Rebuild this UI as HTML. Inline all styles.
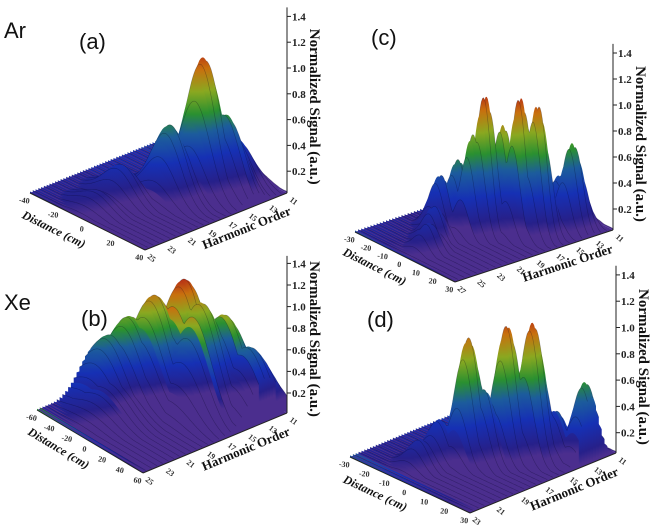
<!DOCTYPE html>
<html><head><meta charset="utf-8"><style>
html,body{margin:0;padding:0;background:#fff;}
svg{display:block;}
text{font-family:"Liberation Serif",serif;}
.big{font-family:"Liberation Sans",sans-serif;font-size:22px;fill:#111;}
</style></head><body>
<svg id="fig" width="655" height="529" viewBox="0 0 655 529" xmlns="http://www.w3.org/2000/svg">
<rect width="655" height="529" fill="#fff"/>
<defs id="defs"></defs>
<text class="big" x="4" y="38">Ar</text>
<text class="big" x="79" y="49">(a)</text>
<text class="big" x="4" y="310">Xe</text>
<text class="big" x="81" y="326">(b)</text>
<text class="big" x="371" y="45">(c)</text>
<text class="big" x="367" y="327">(d)</text>
</svg>
<script>
// ---- Panel (a): Ar ----
const aHarmTicks = [11,13,15,17,19,21,23,25];
const aDistTicks = [-40,-20,0,20,40];
const aLobeHarm = [15.1,12.7,17.7,20.5,22.9,14.2];
const aLobeDist = [11,16,6,-8,-8,20];
const aLobeZ = [1.02,0.35,0.55,0.25,0.12,0.6];
// ---- Panel (b): Xe ----
const bHarmTicks = [11,13,15,17,19,21,23,25];
const bDistTicks = [-60,-40,-20,0,20,40,60];
const bLobeHarm = [14.9,16.6,18,13.5,13.1,15.2,20.8,19.4,12.3];
const bLobeDist = [-10,-24,-36,18,42,12,-24,-42,30];
const bLobeZ = [1.05,0.9,0.7,0.8,0.6,0.95,0.25,0.55,0.5];
// ---- Panel (c) ----
const cHarmTicks = [11,13,15,17,19,21,23,25,27];
const cDistTicks = [-30,-20,-10,0,10,20,30];
const cLobeHarm = [19,17.1,16.2,13.2,17.6,19.8,16.2,19.8,21.2,13.1,18.6,23,24.6];
const cLobeDist = [0.6,10.4,15.5,18.6,3,-1.8,6.6,-10.8,-13.2,10.5,-4.8,-6,0];
const cLobeZ = [1.05,1.05,1.0,0.65,0.8,0.75,0.75,0.5,0.4,0.35,0.35,0.25,0.2];
// ---- Panel (d) ----
const dHarmTicks = [11,13,15,17,19,21,23];
const dDistTicks = [-30,-20,-10,0,10,20,30];
const dLobeHarm = [18.1,16.1,15,13.1,17.6,19.3,20.8,14];
const dLobeDist = [-0.6,6.6,12.6,27.3,4.2,-7.8,-8.4,18];
const dLobeZ = [0.93,1.0,1.02,0.6,0.55,0.3,0.2,0.35];
const zTicks = [0.2,0.4,0.6,0.8,1.0,1.2,1.4];

const NS='http://www.w3.org/2000/svg';
const svg=document.getElementById('fig');
const defs=document.getElementById('defs');
function mk(tag,attrs,parent){const e=document.createElementNS(NS,tag);for(const k in attrs)e.setAttribute(k,attrs[k]);(parent||svg).appendChild(e);return e;}
const stops=[[0,'#4b2e8e'],[0.08,'#26208a'],[0.25,'#1630b4'],[0.42,'#1c5c9c'],[0.55,'#2a9030'],[0.7,'#8aa820'],[0.85,'#c8700e'],[1,'#b01818']];

function panel(id,cfg,harmTicks,distTicks,lH,lD,lZ){
  const R=cfg.R,F=cfg.F,L=cfg.L,k=cfg.k;
  const hMin=harmTicks[0],hMax=harmTicks[harmTicks.length-1];
  const dMin=distTicks[0],dMax=distTicks[distTicks.length-1];
  const uOf=h=>(h-hMin)/(hMax-hMin);
  const vOf=d=>(dMax-d)/(dMax-dMin);
  const P=(u,v,z)=>[R[0]+u*(F[0]-R[0])+v*(L[0]-F[0]), R[1]+u*(F[1]-R[1])+v*(L[1]-F[1])-z*k];
  const g=mk('g',{});
  
  
  const B=[R[0]+L[0]-F[0],R[1]+L[1]-F[1]];
  const floor=mk('polygon',{points:[R,F,L,B].map(p=>p.join(',')).join(' '),fill:'#4b2e8e'},g);
  
  
  const lu=lH.map(uOf), lv=lD.map(vOf);
  const N=52,M=90;
  for(let i=0;i<N;i++){
    const u=i/(N-1);
    const pts=[];let zmax=0,vmax=0.5;
    for(let j=0;j<=M;j++){
      const v=j/M;let z=0.012;
      for(let q=0;q<lZ.length;q++){
        const du=(u-lu[q])/cfg.su,dv=(v-lv[q])/cfg.sv;
        z=Math.max(z,lZ[q]*Math.exp(-0.5*(du*du+dv*dv)));
      }
      if(z>zmax){zmax=z;vmax=v;}
      pts.push(P(u,v,z));
    }
    const by=P(u,vmax,0)[1];
    const gid='g'+id+i;
    const gr=mk('linearGradient',{id:gid,gradientUnits:'userSpaceOnUse',x1:0,y1:by,x2:0,y2:by-1.1*k},defs);
    stops.forEach(s=>mk('stop',{offset:s[0],'stop-color':s[1]},gr));
    const poly=pts.concat([P(u,1,0),P(u,0,0)]);
    const row=mk('polygon',{points:poly.map(p=>p[0].toFixed(1)+','+p[1].toFixed(1)).join(' '),fill:'url(#'+gid+')'},g);
    
    
    if(i%2===0){
      const ln=mk('polyline',{points:pts.map(p=>p[0].toFixed(1)+','+p[1].toFixed(1)).join(' '),fill:'none',stroke:'rgba(0,0,30,0.3)','stroke-width':0.6},g);
      
      
    }
  }
  const zb=cfg.zb;
  const ax=mk('line',{x1:R[0],y1:R[1],x2:R[0],y2:zb-1.47*k,stroke:'#222','stroke-width':1});
  
  
  zTicks.forEach(t=>{
    const y=zb-t*k;
    const tk=mk('line',{x1:R[0],y1:y,x2:R[0]+4,y2:y,stroke:'#222','stroke-width':1});
    
    
    const tx=mk('text',{x:R[0]+5,y:y+4,'font-size':11,'font-weight':'bold',fill:'#222'});
    tx.textContent=t.toFixed(1);
    
    
  });
  const zt=mk('text',{x:0,y:0,'font-size':15,'font-weight':'bold','text-anchor':'middle',fill:'#111',transform:'translate('+(R[0]+23)+','+((zb-0.7*k))+') rotate(90)'});
  zt.textContent='Normalized Signal (a.u.)';
  
  
  const hl=mk('line',{x1:R[0],y1:R[1],x2:F[0],y2:F[1],stroke:'#222','stroke-width':1});
  
  
  const dl=mk('line',{x1:F[0],y1:F[1],x2:L[0],y2:L[1],stroke:'#222','stroke-width':1});
  
  
  const hAng=Math.atan2(R[1]-F[1],R[0]-F[0])*180/Math.PI;
  const dAng=Math.atan2(F[1]-L[1],F[0]-L[0])*180/Math.PI;
  harmTicks.forEach(h=>{
    const p=P(uOf(h),0,0);
    const tx=mk('text',{x:0,y:0,'font-size':8,'font-weight':'bold',fill:'#333','text-anchor':'middle',transform:'translate('+(p[0]+5)+','+(p[1]+10)+') rotate('+(hAng+60)+')'});
    tx.textContent=h;
    
    
  });
  distTicks.forEach(d=>{
    const p=P(1,vOf(d),0);
    const tx=mk('text',{x:0,y:0,'font-size':8,'font-weight':'bold',fill:'#333','text-anchor':'middle',transform:'translate('+(p[0]-6)+','+(p[1]+10)+') rotate('+(dAng-20)+')'});
    tx.textContent=d;
    
    
  });
  const hp=P(0.33,0,0);
  const ht=mk('text',{x:0,y:0,'font-size':13,'font-weight':'bold','text-anchor':'middle',fill:'#111',transform:'translate('+(hp[0]+8)+','+(hp[1]+20)+') rotate('+hAng+')'});
  ht.textContent='Harmonic Order';
  
  
  const dp=P(1,0.72,0);
  const dt=mk('text',{x:0,y:0,'font-size':12,'font-weight':'bold','font-style':'italic','text-anchor':'middle',fill:'#111',transform:'translate('+(dp[0]-10)+','+(dp[1]+24)+') rotate('+dAng+')'});
  dt.textContent='Distance (cm)';
  
  
}
panel('a',{R:[287,193],F:[145,250],L:[30,193],k:129,zb:197,su:0.07,sv:0.13},aHarmTicks,aDistTicks,aLobeHarm,aLobeDist,aLobeZ);
panel('b',{R:[287,413],F:[143,473],L:[37,410],k:108,zb:414.6,su:0.11,sv:0.17},bHarmTicks,bDistTicks,bLobeHarm,bLobeDist,bLobeZ);
panel('c',{R:[613,230],F:[455,282],L:[355,232],k:130,zb:235,su:0.055,sv:0.075},cHarmTicks,cDistTicks,cLobeHarm,cLobeDist,cLobeZ);
panel('d',{R:[616,453],F:[470,513],L:[350,457],k:131.5,zb:459,su:0.06,sv:0.08},dHarmTicks,dDistTicks,dLobeHarm,dLobeDist,dLobeZ);
</script>
</body></html>
